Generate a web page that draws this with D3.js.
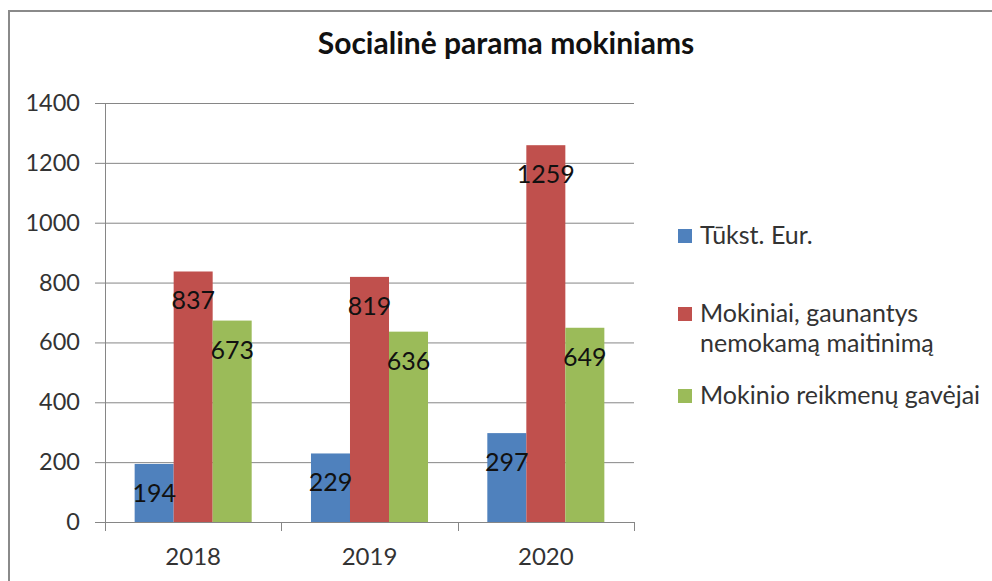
<!DOCTYPE html>
<html>
<head>
<meta charset="utf-8">
<script src="https://cdn.jsdelivr.net/npm/d3@7"></script>
<style>
  body { margin: 0; background: #fff; }
  text { font-family: Lato, "Open Sans", sans-serif; }
</style>
</head>
<body>
<svg width="992" height="581"></svg>
<script>
var svg = d3.select("svg"),
    width = +svg.attr("width"),
    height = +svg.attr("height");

// data
var years = ["2018", "2019", "2020"];
var seriesNames = ["Tūkst. Eur.", "Mokiniai, gaunantys nemokamą maitinimą", "Mokinio reikmenų gavėjai"];
var tukstEur = [194, 229, 297];
var maitinimas = [837, 819, 1259];
var reikmenys = [673, 636, 649];
var yTicks = [0, 200, 400, 600, 800, 1000, 1200, 1400];
var colors = ["#4f81bd", "#c0504d", "#9bbb59"];

var values = [tukstEur, maitinimas, reikmenys];
var rows = [];
years.forEach((y, i) => values.forEach((v, s) => rows.push({ year: y, s: s, value: v[i] })));

// outer frame
svg.append("rect")
    .attr("x", 9).attr("y", 11)
    .attr("width", 1000).attr("height", 600)
    .attr("fill", "#fff")
    .attr("stroke", "#8a8a8a")
    .attr("stroke-width", 2);

svg.append("text")
    .attr("x", 506).attr("y", 54)
    .attr("text-anchor", "middle")
    .attr("font-size", 30)
    .attr("font-weight", "bold")
    .attr("fill", "#111")
    .text("Socialinė parama mokiniams");

var y = d3.scaleLinear().domain([0, 1400]).range([522, 103]);
var x0 = d3.scaleBand().domain(years).range([105, 634]);
var x1 = d3.scaleBand().domain(d3.range(3)).range([0, x0.bandwidth()]).paddingOuter(0.76);

// gridlines + y labels
var yAxis = svg.append("g");
yAxis.selectAll("line").data(yTicks).enter().append("line")
    .attr("x1", 95).attr("x2", 634)
    .attr("y1", d => y(d) + 0.5).attr("y2", d => y(d) + 0.5)
    .attr("stroke", "#868686").attr("stroke-width", 1);
yAxis.selectAll("text").data(yTicks).enter().append("text")
    .attr("x", 80).attr("y", d => y(d) + 8)
    .attr("text-anchor", "end")
    .attr("font-size", 23.5)
    .attr("fill", "#333")
    .text(d => d);

// bars
svg.append("g").selectAll("rect").data(rows).enter().append("rect")
    .attr("x", d => x0(d.year) + x1(d.s))
    .attr("y", d => y(d.value))
    .attr("width", x1.bandwidth())
    .attr("height", d => y(0) - y(d.value))
    .attr("fill", d => colors[d.s]);

// data labels
svg.append("g").selectAll("text").data(rows).enter().append("text")
    .attr("x", d => x0(d.year) + x1(d.s) + x1.bandwidth() / 2)
    .attr("y", d => y(d.value) + 38)
    .attr("text-anchor", "middle")
    .attr("font-size", 25)
    .attr("fill", "#111")
    .text(d => d.value);

// axes lines
svg.append("line")
    .attr("x1", 105.5).attr("x2", 105.5).attr("y1", 103).attr("y2", 530)
    .attr("stroke", "#868686");
svg.append("line")
    .attr("x1", 95).attr("x2", 634).attr("y1", 522.5).attr("y2", 522.5)
    .attr("stroke", "#868686");
var xTicks = years.map(d => x0(d)).concat([x0.range()[1]]);
svg.append("g").selectAll("line").data(xTicks).enter().append("line")
    .attr("x1", d => Math.round(d) + 0.5).attr("x2", d => Math.round(d) + 0.5)
    .attr("y1", 522).attr("y2", 531)
    .attr("stroke", "#868686");
svg.append("g").selectAll("text").data(years).enter().append("text")
    .attr("x", d => x0(d) + x0.bandwidth() / 2)
    .attr("y", 565)
    .attr("text-anchor", "middle")
    .attr("font-size", 24)
    .attr("fill", "#333")
    .text(d => d);

// legend
var legendLines = [["Tūkst. Eur."], ["Mokiniai, gaunantys", "nemokamą maitinimą"], ["Mokinio reikmenų gavėjai"]];
var legendY = [244, 322, 404];
var leg = svg.append("g").selectAll("g").data(legendLines).enter().append("g")
    .attr("transform", (d, i) => "translate(678," + legendY[i] + ")");
leg.append("rect")
    .attr("x", 0).attr("y", -15)
    .attr("width", 14).attr("height", 14)
    .attr("fill", (d, i) => colors[i]);
leg.append("text")
    .attr("x", 22)
    .attr("font-size", 25)
    .attr("fill", "#333")
    .selectAll("tspan").data(d => d).enter().append("tspan")
    .attr("x", 22)
    .attr("dy", (d, i) => i ? 30 : 0)
    .text(d => d);
</script>
</body>
</html>
